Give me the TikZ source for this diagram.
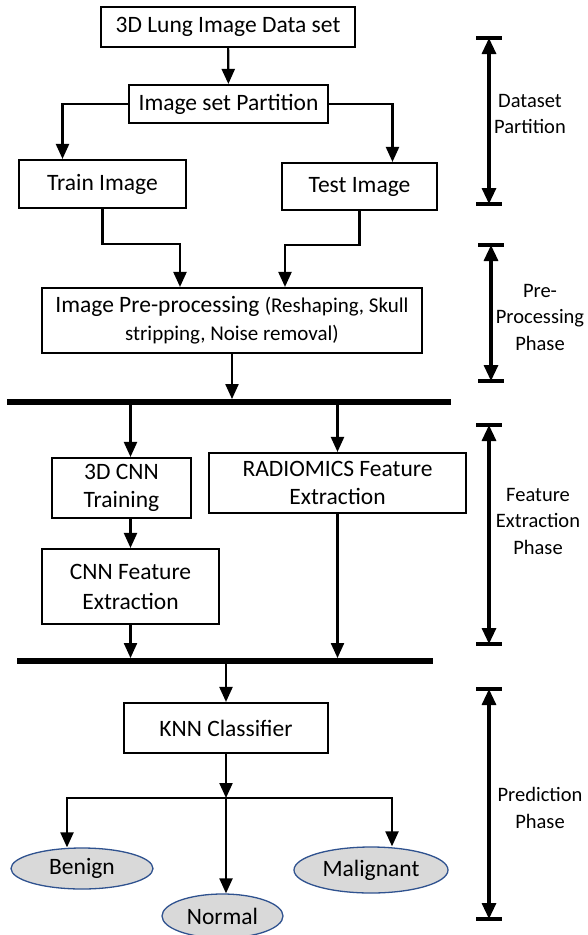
\documentclass[tikz,border=0pt]{standalone}
\usepackage{fontspec}
\setmainfont{Carlito}
\usetikzlibrary{arrows.meta,positioning,calc,shapes.geometric}
\definecolor{ovalFill}{RGB}{217,217,217}
\definecolor{ovalEdge}{RGB}{47,82,143}

\begin{document}
\begin{tikzpicture}[x=1pt,y=-1pt,
      box/.style={draw,line width=2.1pt,inner sep=0pt,align=center,
        font=\fontsize{23.5}{28}\selectfont},
      oval/.style={ellipse,draw=ovalEdge,line width=1.3pt,fill=ovalFill,inner sep=0pt,
        font=\fontsize{23.5}{28}\selectfont},
      phase/.style={align=center,font=\fontsize{20.5}{26.5}\selectfont},
      flow/.style={-{Triangle[length=15pt,width=13pt]},line width=2.2pt},
      bus/.style={fill=black,inner sep=0pt,minimum height=5.5pt},
      span/.style={{Triangle[length=16pt,width=14pt]}-{Triangle[length=16pt,width=14pt]},line width=3.2pt},
      endcap/.style={line width=4pt}]

    \useasboundingbox (0,0) rectangle (587,935);

    % Dataset and partition.
    \node[box,minimum width=254pt,minimum height=40pt] (ds) at (228,27) {3D Lung Image Data set};
    \node[box,minimum width=199pt,minimum height=38pt] (part) at (228.5,104) {Image set Partition};
    \node[box,minimum width=167pt,minimum height=48pt] (train) at (102.5,184) {Train Image};
    \node[box,minimum width=155pt,minimum height=47pt] (test) at (359.5,186.5) {Test Image};
    \draw[flow] (ds) -- (part);
    \draw[flow] (part.west) -| ([xshift=-40pt]train.north);
    \draw[flow] (part.east) -| ([xshift=33pt]test.north);

    % Pre-processing.
    \node[box,minimum width=380pt,minimum height=65pt] (pre) at (232,320.5)
      {Image Pre-processing {\fontsize{21}{27}\selectfont(Reshaping, Skull}\\
       {\fontsize{21}{27}\selectfont stripping, Noise removal)}};
    \draw[flow] (train.south) -- ++(0,35) -| ([xshift=-52pt]pre.north);
    \draw[flow] (test.south) -- ++(0,34) -| ([xshift=53pt]pre.north);
    \node[bus,minimum width=444pt] (bus1) at (229,402) {};
    \draw[flow] (pre.south) -- (pre.south |- bus1.north);

    % Feature extraction.
    \node[box,minimum width=139pt,minimum height=60pt] (cnn) at (121.5,488) {3D CNN\\Training};
    \node[box,minimum width=257pt,minimum height=60pt] (rad) at (337.5,483) {RADIOMICS Feature\\Extraction};
    \node[box,minimum width=177pt,minimum height=75pt] (cnnfeat) at (130.5,586.5) {CNN Feature\\[2pt]Extraction};
    \node[bus,minimum width=416pt] (bus2) at (225,661) {};
    \draw[flow] (bus1.south -| cnnfeat.north) -- (cnn.north -| cnnfeat.north);
    \draw[flow] (bus1.south -| rad.north) -- (rad.north);
    \draw[flow] (cnn.south -| cnnfeat.north) -- (cnnfeat.north);
    \draw[flow] (cnnfeat.south) -- (cnnfeat.south |- bus2.north);
    \draw[flow] (rad.south) -- (rad.south |- bus2.north);

    % Prediction.
    \node[box,minimum width=204pt,minimum height=50pt] (knn) at (226,728) {KNN Classifier};
    \node[oval,minimum width=142pt,minimum height=41pt] (benign) at (82,868.5) {Benign};
    \node[oval,minimum width=154pt,minimum height=46pt] (malig) at (371,870) {Malignant};
    \node[oval,minimum width=121pt,minimum height=44pt] (normal) at (222.5,916) {Normal};
    \coordinate (fork) at (226,798);
    \draw[flow] (bus2.south -| knn.north) -- (knn.north);
    \draw[flow] (knn.south) -- (fork);
    \draw[flow] (fork) -| ([xshift=-15pt]benign.north);
    \draw[flow] (fork) -| ([xshift=21pt]malig.north);
    \draw[flow] (fork) -- (fork |- normal.north);

    % Phase spans on the right.
    \coordinate (dsTop) at (489,38);   \coordinate (dsBot) at (489,204);
    \coordinate (preTop) at (491,245); \coordinate (preBot) at (491,381);
    \coordinate (ftTop) at (489,425);  \coordinate (ftBot) at (489,644);
    \coordinate (pdTop) at (489,689);  \coordinate (pdBot) at (489,919);
    \foreach \s in {ds,pre,ft,pd}{
      \draw[span] (\s Top) -- (\s Bot);
      \draw[endcap] (\s Top) ++(-13,0) -- ++(26,0);
      \draw[endcap] (\s Bot) ++(-13,0) -- ++(26,0);
    }
    \node[phase] (dsLbl) at (530,114) {Dataset\\Partition};
    \node[phase] (preLbl) at (540,317) {Pre-\\Processing\\Phase};
    \node[phase] (ftLbl) at (538,521) {Feature\\Extraction\\Phase};
    \node[phase] (pdLbl) at (540,808) {Prediction\\Phase};
  \end{tikzpicture}
\end{document}
